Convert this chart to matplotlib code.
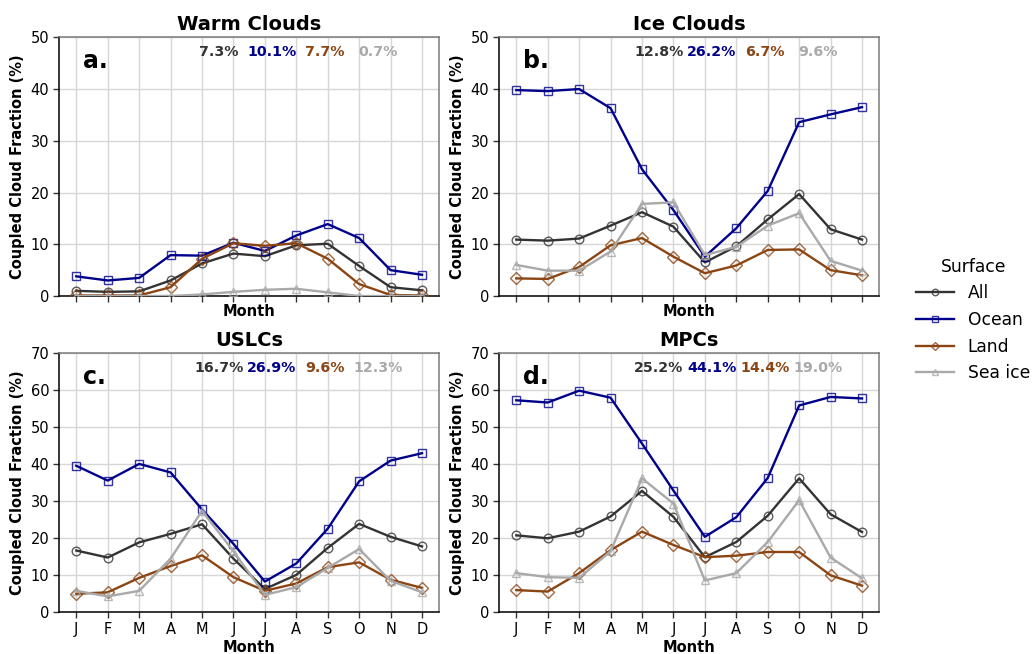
import matplotlib
matplotlib.use("Agg")
import matplotlib.pyplot as plt
from matplotlib.colors import to_rgba
import numpy as np

months = ["J", "F", "M", "A", "M", "J", "J", "A", "S", "O", "N", "D"]
surfaces = ["All", "Ocean", "Land", "Sea ice"]
colors = ["#333333", "#00008B", "#8B4513", "#A9A9A9"]
markers = ["o", "s", "D", "^"]

titles = ["Warm Clouds", "Ice Clouds", "USLCs", "MPCs"]
panel_labels = ["a.", "b.", "c.", "d."]
ylims = [50, 50, 70, 70]

warm_all = [1.0, 0.8, 0.9, 3.0, 6.3, 8.2, 7.7, 9.8, 10.1, 5.8, 1.7, 1.1]
warm_ocean = [3.8, 3.0, 3.5, 7.9, 7.8, 10.3, 8.7, 11.7, 13.9, 11.2, 5.0, 4.1]
warm_land = [0.1, 0.1, 0.1, 1.7, 7.2, 10.2, 9.7, 10.2, 7.2, 2.3, 0.2, 0.1]
warm_seaice = [0.0, 0.0, 0.0, 0.0, 0.3, 0.8, 1.2, 1.4, 0.7, 0.0, 0.0, 0.0]

ice_all = [10.9, 10.7, 11.1, 13.6, 16.2, 13.4, 6.5, 9.6, 14.8, 19.7, 12.9, 10.9]
ice_ocean = [39.8, 39.6, 40.0, 36.3, 24.5, 16.6, 7.6, 13.1, 20.3, 33.6, 35.1, 36.5]
ice_land = [3.4, 3.3, 5.6, 9.8, 11.2, 7.6, 4.4, 5.9, 8.9, 9.0, 5.0, 4.0]
ice_seaice = [6.0, 4.9, 4.9, 8.6, 17.8, 18.1, 7.9, 9.5, 13.6, 16.0, 6.8, 4.9]

uslc_all = [16.7, 14.8, 18.9, 21.2, 23.8, 14.5, 6.3, 10.1, 17.4, 23.9, 20.4, 17.8]
uslc_ocean = [39.6, 35.6, 40.1, 37.8, 27.8, 18.5, 8.3, 13.2, 22.6, 35.4, 41.0, 43.0]
uslc_land = [5.0, 5.4, 9.3, 12.5, 15.4, 9.5, 5.8, 7.8, 12.2, 13.5, 8.8, 6.6]
uslc_seaice = [5.8, 4.3, 5.8, 14.5, 27.4, 16.5, 4.7, 6.8, 12.0, 17.1, 8.5, 5.4]

mpc_all = [20.8, 20.0, 21.8, 25.9, 32.8, 25.8, 14.9, 19.0, 26.1, 36.2, 26.5, 21.7]
mpc_ocean = [57.3, 56.7, 59.9, 58.0, 45.6, 32.9, 20.4, 25.7, 36.3, 55.9, 58.2, 57.8]
mpc_land = [6.0, 5.6, 10.6, 16.8, 21.8, 18.2, 14.9, 15.3, 16.3, 16.3, 10.0, 7.2]
mpc_seaice = [10.6, 9.5, 9.3, 16.5, 36.2, 29.4, 8.6, 10.6, 19.0, 30.3, 14.8, 9.2]

annual_means = [
    ["7.3%", "10.1%", "7.7%", "0.7%"],
    ["12.8%", "26.2%", "6.7%", "9.6%"],
    ["16.7%", "26.9%", "9.6%", "12.3%"],
    ["25.2%", "44.1%", "14.4%", "19.0%"],
]

panels = [
    [warm_all, warm_ocean, warm_land, warm_seaice],
    [ice_all, ice_ocean, ice_land, ice_seaice],
    [uslc_all, uslc_ocean, uslc_land, uslc_seaice],
    [mpc_all, mpc_ocean, mpc_land, mpc_seaice],
]

W, H = 1035, 654
fig = plt.figure(figsize=(W / 100, H / 100), dpi=100)

# axes rectangles in pixels: left, top, right, bottom
rects = [(59, 37.3, 439.3, 296), (499, 37.3, 879.3, 296),
         (59, 353.3, 439.3, 612.3), (499, 353.3, 879.3, 612.3)]

x = np.arange(1, 13)
handles = None
for i, (l, t, r, b) in enumerate(rects):
    ax = fig.add_axes([l / W, 1 - b / H, (r - l) / W, (b - t) / H])
    hs = []
    for s, (vals, c, m, name) in enumerate(zip(panels[i], colors, markers, surfaces)):
        ms = 6.2 if m != "D" else 6.0
        h, = ax.plot(x, vals, color=c, lw=1.7, marker=m, markersize=ms,
                     markerfacecolor="none", markeredgecolor=to_rgba(c, 0.8),
                     markeredgewidth=1.0, label=name, zorder=3 + s)
        hs.append(h)
    handles = hs
    ax.set_ylim(0, ylims[i])
    ax.set_yticks(np.arange(0, ylims[i] + 1, 10))
    ax.set_xticks(x)
    ax.set_xlim(0.45, 12.55)
    ax.set_xticklabels(months)
    ax.tick_params(axis="both", labelsize=10.5, length=4.5, width=1, color="#333333",
                   pad=2.5)
    if i < 2:
        ax.tick_params(axis="x", labelbottom=False)
        ax.set_xlabel("Month", fontsize=10.5, fontweight="bold", labelpad=1.5)
    else:
        ax.set_xlabel("Month", fontsize=10.5, fontweight="bold", labelpad=2.5)
    ax.grid(True, color="#d6d6d6", lw=1.0, zorder=0)
    ax.set_axisbelow(True)
    ax.set_ylabel("Coupled Cloud Fraction (%)", fontsize=10.5, fontweight="bold",
                  labelpad=4)
    ax.set_title(titles[i], fontsize=14, fontweight="bold", pad=5)
    for sp in ["left", "bottom"]:
        ax.spines[sp].set_color("black")
        ax.spines[sp].set_linewidth(1.1)
    for sp in ["top", "right"]:
        ax.spines[sp].set_color("#7a7a7a")
        ax.spines[sp].set_linewidth(1.1)
    ax.text(0.063, 0.907, panel_labels[i], transform=ax.transAxes, fontsize=17,
            fontweight="bold", ha="left", va="center")
    for k, xf in enumerate([0.42, 0.56, 0.70, 0.84]):
        ax.text(xf, 0.942, annual_means[i][k], transform=ax.transAxes, fontsize=10.2,
                fontweight="bold", color=colors[k], ha="center", va="center")

leg = fig.legend(handles, surfaces, title="Surface", loc="center left",
                 bbox_to_anchor=(901 / W, 1 - 320 / H), frameon=False,
                 fontsize=12.3, title_fontsize=12.3, handlelength=2.2,
                 markerscale=0.75, labelspacing=0.5)

fig.savefig("out.png", dpi=100)
